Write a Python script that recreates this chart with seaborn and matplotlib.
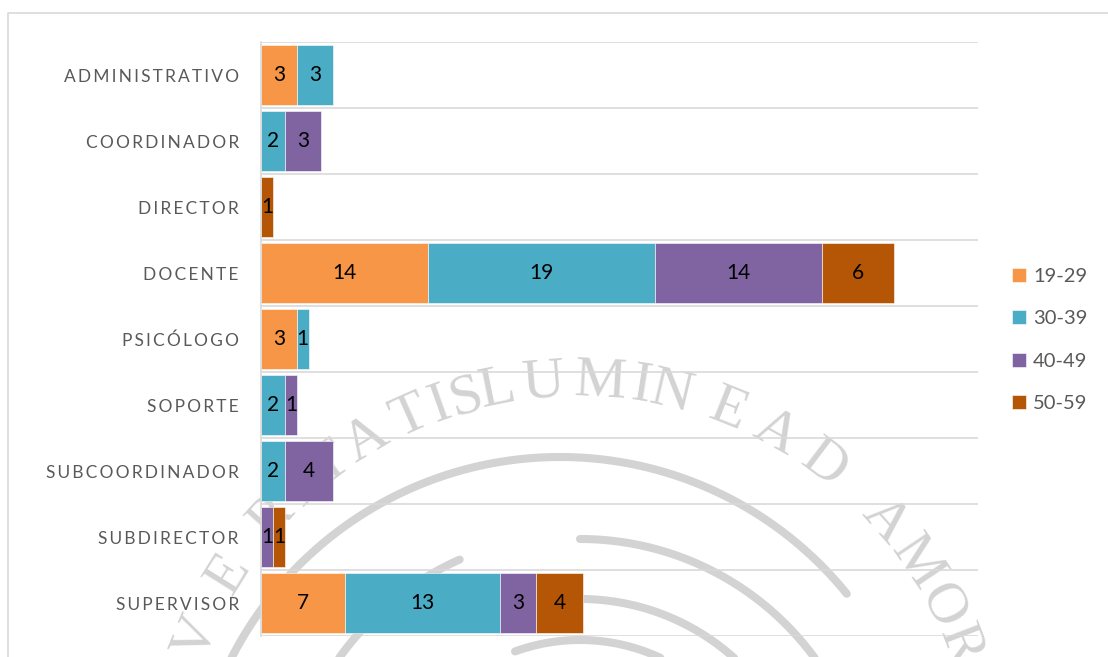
import numpy as np
import pandas as pd
import matplotlib
matplotlib.use("Agg")
import matplotlib.pyplot as plt
import seaborn as sns

# data
categories = ["ADMINISTRATIVO", "COORDINADOR", "DIRECTOR", "DOCENTE", "PSICÓLOGO",
              "SOPORTE", "SUBCOORDINADOR", "SUBDIRECTOR", "SUPERVISOR"]
age_19_29 = [3, 0, 0, 14, 3, 0, 0, 0, 7]
age_30_39 = [3, 2, 0, 19, 1, 2, 2, 0, 13]
age_40_49 = [0, 3, 0, 14, 0, 1, 4, 1, 3]
age_50_59 = [0, 0, 1, 6, 0, 0, 0, 1, 4]

series = {"19-29": age_19_29, "30-39": age_30_39, "40-49": age_40_49, "50-59": age_50_59}
colors = ["#F79646", "#4BACC6", "#8064A2", "#B45606"]

W, H = 1108, 657
GRID = "#d9d9d9"
MARK = "#d3d3d3"

sns.set_style("white")
plt.rcParams["font.family"] = ["Lato", "DejaVu Sans"]

fig = plt.figure(figsize=(W / 100, H / 100), dpi=100, facecolor="white")

# background layer in pixel coordinates: frame and faded seal
bg = fig.add_axes([0, 0, 1, 1], zorder=0)
bg.set_xlim(0, W)
bg.set_ylim(H, 0)
bg.axis("off")
bg.plot([8, 8, W], [H, 13, 13], color=GRID, lw=1.2)

seal_letters = [("V", -68), ("E", -58), ("R", -48), ("I", -42.5), ("T", -37), ("A", -31),
                ("T", -24), ("I", -19.5), ("S", -15.8), ("L", -11.3), ("U", -4.6), ("M", 3.2),
                ("I", 9), ("N", 13.3), ("E", 21.7), ("A", 29), ("D", 37), ("A", 48.6),
                ("M", 56), ("O", 63), ("R", 69)]
for ch, ang in seal_letters:
    t = np.radians(ang)
    bg.text(577 + 410 * np.sin(t), 792 - 410 * np.cos(t), ch, rotation=-ang,
            rotation_mode="anchor", ha="center", va="center", color=MARK,
            family="Liberation Serif", fontsize=42)

seal_arcs = [(560, 826, 369, -63, 51), (580, 830, 291, 0, 60), (580, 830, 296, -55, -24),
             (580, 830, 231, -5, 50), (580, 830, 190, -20, 25)]
for cx, cy, r, a0, a1 in seal_arcs:
    t = np.radians(np.linspace(a0, a1, 120))
    bg.plot(cx + r * np.sin(t), cy - r * np.cos(t), color=MARK, lw=5.8, solid_capstyle="round")

# chart
ax = fig.add_axes([261 / W, 1 - 636 / H, (977.6 - 261) / W, (636 - 42) / H], zorder=1)
ax.patch.set_alpha(0)

df = pd.DataFrame({"cargo": categories, **series})
left = np.zeros(len(categories))
for (name, values), color in zip(series.items(), colors):
    vals = np.array(values)
    keep = vals > 0
    sns.barplot(data=df[keep], y="cargo", x=name, order=categories, color=color, saturation=1,
                width=0.91, left=left[keep], label=name, edgecolor="white", linewidth=0.4, ax=ax)
    ax.bar_label(ax.containers[-1], label_type="center", color="black", fontsize=15)
    left += vals

ax.set_xlim(0, 60)
ax.set_ylim(len(categories) - 0.5, -0.5)
ax.set_xlabel("")
ax.set_ylabel("")
ax.set_xticks([])
ax.set_yticks(range(len(categories)))
ax.set_yticklabels(["\u2009".join(c) for c in categories], color="#595959", fontsize=12.5)
ax.set_yticks(np.arange(-0.5, len(categories)), minor=True)
ax.tick_params(axis="y", which="both", length=0, pad=16)
ax.grid(False)
ax.grid(axis="y", which="minor", color=GRID, lw=1.2)
ax.set_axisbelow(True)
sns.despine(ax=ax, top=True, right=True, bottom=True, left=False)
ax.spines["left"].set_color(GRID)
ax.spines["left"].set_linewidth(1.2)

ax.legend(loc="center left", bbox_to_anchor=(1012 / W, 1 - 340 / H), bbox_transform=fig.transFigure,
          frameon=False, fontsize=14.5, labelcolor="#595959", handlelength=0.7, handleheight=0.7,
          handletextpad=0.35, labelspacing=1.25, borderpad=0, borderaxespad=0)

fig.savefig("out.png", dpi=100)
